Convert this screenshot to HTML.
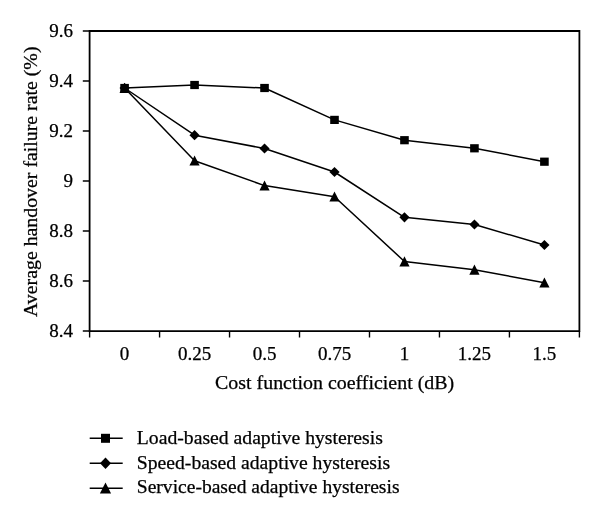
<!DOCTYPE html><html><head><meta charset="utf-8"><style>html,body{margin:0;padding:0;background:#fff;width:600px;height:519px;overflow:hidden}svg{display:block;will-change:transform}text{font-family:"Liberation Serif", serif;fill:#000;stroke:#000;stroke-width:0.25px}</style></head><body>
<svg width="600" height="519" viewBox="0 0 600 519">
<rect width="600" height="519" fill="#fff"/>
<g stroke="#000" stroke-width="1.8" fill="none" shape-rendering="auto">
<path d="M89.6 31.0H579.4V331.05H89.6Z"/>
<path d="M82.8 31.0H89.6" stroke-width="1.5"/>
<path d="M82.8 81.0H89.6" stroke-width="1.5"/>
<path d="M82.8 131.0H89.6" stroke-width="1.5"/>
<path d="M82.8 181.0H89.6" stroke-width="1.5"/>
<path d="M82.8 231.0H89.6" stroke-width="1.5"/>
<path d="M82.8 281.0H89.6" stroke-width="1.5"/>
<path d="M82.8 331.0H89.6" stroke-width="1.5"/>
<path d="M89.60 331.05V337.5" stroke-width="1.4"/>
<path d="M159.57 331.05V337.5" stroke-width="1.4"/>
<path d="M229.54 331.05V337.5" stroke-width="1.4"/>
<path d="M299.51 331.05V337.5" stroke-width="1.4"/>
<path d="M369.49 331.05V337.5" stroke-width="1.4"/>
<path d="M439.46 331.05V337.5" stroke-width="1.4"/>
<path d="M509.43 331.05V337.5" stroke-width="1.4"/>
<path d="M579.40 331.05V337.5" stroke-width="1.4"/>
</g>
<g stroke="#000" stroke-width="1.5" fill="none" stroke-linejoin="round">
<polyline points="124.59,88 194.56,85 264.53,88 334.50,119.9 404.47,140.2 474.44,148.3 544.41,161.7"/>
<polyline points="124.59,88 194.56,135.2 264.53,148.5 334.50,172 404.47,217.3 474.44,224.5 544.41,245"/>
<polyline points="124.59,88 194.56,160.7 264.53,185.6 334.50,196.7 404.47,261.5 474.44,269.75 544.41,282.7"/>
</g>
<g fill="#000">
<rect x="120.29" y="83.90" width="8.6" height="8.2"/>
<rect x="190.26" y="80.90" width="8.6" height="8.2"/>
<rect x="260.23" y="83.90" width="8.6" height="8.2"/>
<rect x="330.20" y="115.80" width="8.6" height="8.2"/>
<rect x="400.17" y="136.10" width="8.6" height="8.2"/>
<rect x="470.14" y="144.20" width="8.6" height="8.2"/>
<rect x="540.11" y="157.60" width="8.6" height="8.2"/>
<path d="M124.59 82.90L129.69 88.00L124.59 93.10L119.49 88.00Z"/>
<path d="M194.56 130.10L199.66 135.20L194.56 140.30L189.46 135.20Z"/>
<path d="M264.53 143.40L269.63 148.50L264.53 153.60L259.43 148.50Z"/>
<path d="M334.50 166.90L339.60 172.00L334.50 177.10L329.40 172.00Z"/>
<path d="M404.47 212.20L409.57 217.30L404.47 222.40L399.37 217.30Z"/>
<path d="M474.44 219.40L479.54 224.50L474.44 229.60L469.34 224.50Z"/>
<path d="M544.41 239.90L549.51 245.00L544.41 250.10L539.31 245.00Z"/>
<path d="M124.59 82.80L129.69 92.90L119.49 92.90Z"/>
<path d="M194.56 155.50L199.66 165.60L189.46 165.60Z"/>
<path d="M264.53 180.40L269.63 190.50L259.43 190.50Z"/>
<path d="M334.50 191.50L339.60 201.60L329.40 201.60Z"/>
<path d="M404.47 256.30L409.57 266.40L399.37 266.40Z"/>
<path d="M474.44 264.55L479.54 274.65L469.34 274.65Z"/>
<path d="M544.41 277.50L549.51 287.60L539.31 287.60Z"/>
</g>
<text x="73" y="37.3" font-size="19" text-anchor="end">9.6</text>
<text x="73" y="87.3" font-size="19" text-anchor="end">9.4</text>
<text x="73" y="137.3" font-size="19" text-anchor="end">9.2</text>
<text x="73" y="187.3" font-size="19" text-anchor="end">9</text>
<text x="73" y="237.3" font-size="19" text-anchor="end">8.8</text>
<text x="73" y="287.3" font-size="19" text-anchor="end">8.6</text>
<text x="73" y="337.3" font-size="19" text-anchor="end">8.4</text>
<text x="124.59" y="360.2" font-size="19" text-anchor="middle">0</text>
<text x="194.56" y="360.2" font-size="19" text-anchor="middle">0.25</text>
<text x="264.53" y="360.2" font-size="19" text-anchor="middle">0.5</text>
<text x="334.50" y="360.2" font-size="19" text-anchor="middle">0.75</text>
<text x="404.47" y="360.2" font-size="19" text-anchor="middle">1</text>
<text x="474.44" y="360.2" font-size="19" text-anchor="middle">1.25</text>
<text x="544.41" y="360.2" font-size="19" text-anchor="middle">1.5</text>
<text x="334.6" y="388.8" font-size="19" text-anchor="middle" textLength="239.1" lengthAdjust="spacingAndGlyphs">Cost function coefficient (dB)</text>
<text transform="translate(36.8 181.75) rotate(-90)" x="0" y="0" font-size="19" text-anchor="middle" textLength="270.5" lengthAdjust="spacingAndGlyphs">Average handover failure rate (%)</text>
<path d="M89.7 438.3H122.7" stroke="#000" stroke-width="1.5"/>
<rect x="101.0" y="433.8" width="9" height="9"/>
<text x="136.8" y="444.2" font-size="19" textLength="246.0" lengthAdjust="spacingAndGlyphs">Load-based adaptive hysteresis</text>
<path d="M89.7 463.3H122.7" stroke="#000" stroke-width="1.5"/>
<path d="M105.5 457.6L111.0 463.3L105.5 469.0L100.0 463.3Z"/>
<text x="136.8" y="468.9" font-size="19" textLength="253.3" lengthAdjust="spacingAndGlyphs">Speed-based adaptive hysteresis</text>
<path d="M89.7 488.2H122.7" stroke="#000" stroke-width="1.5"/>
<path d="M105.5 482.5L111.1 493.59999999999997L99.9 493.59999999999997Z"/>
<text x="136.8" y="493.4" font-size="19" textLength="262.7" lengthAdjust="spacingAndGlyphs">Service-based adaptive hysteresis</text>
</svg></body></html>
